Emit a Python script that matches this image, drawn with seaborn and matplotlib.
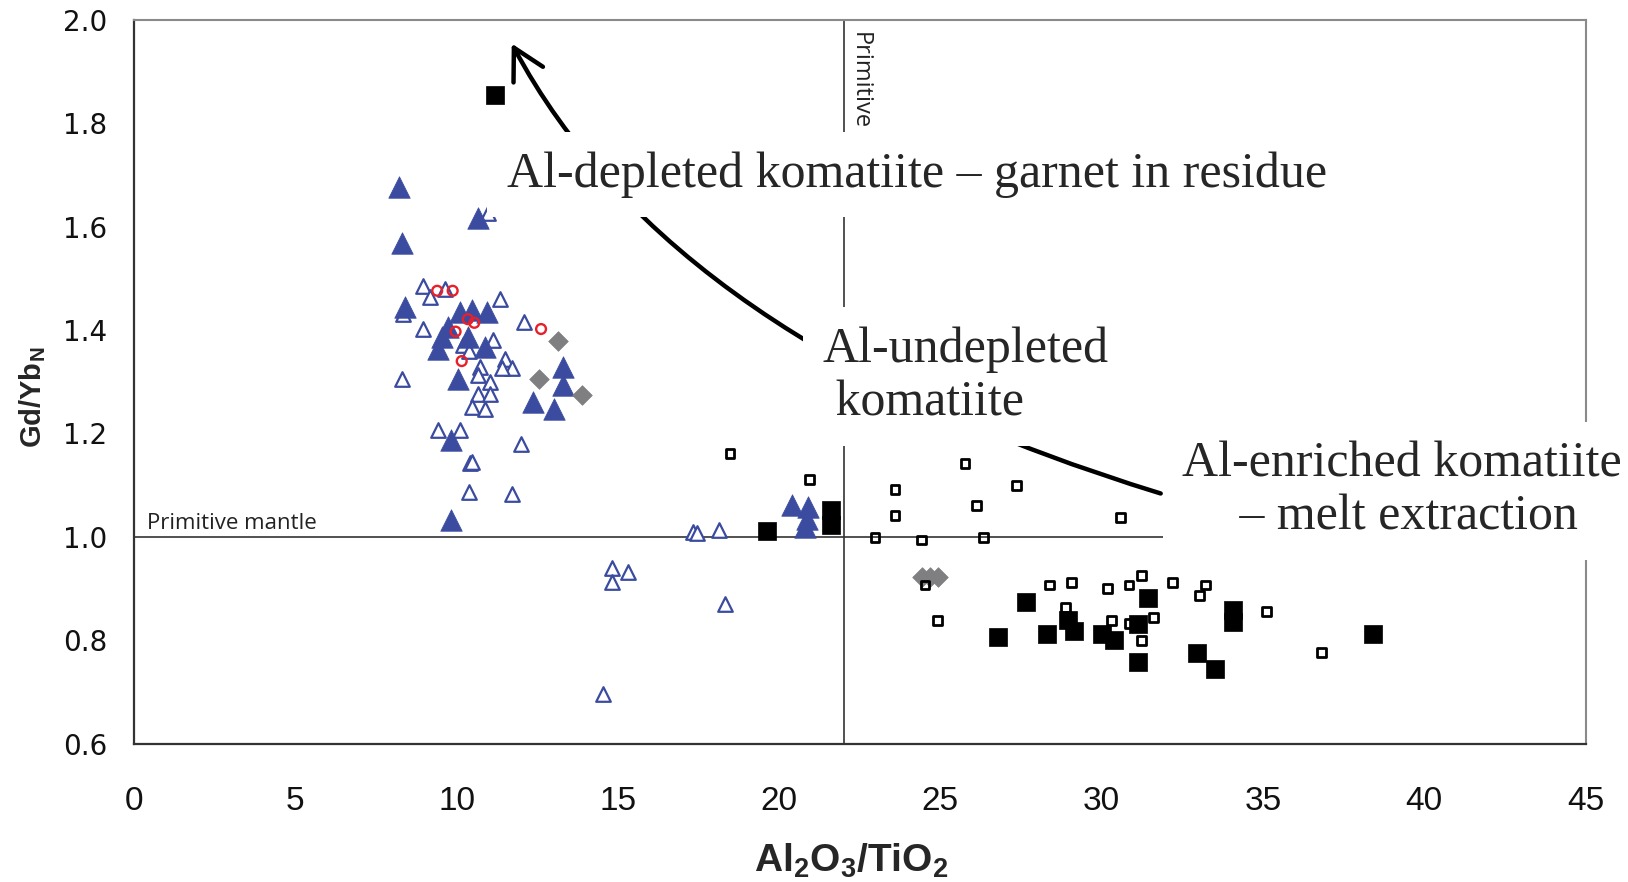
import matplotlib
matplotlib.use("Agg")
import matplotlib.pyplot as plt
import seaborn as sns
import pandas as pd
from matplotlib.patches import FancyArrowPatch, ArrowStyle
from matplotlib.ticker import FormatStrFormatter

# ---------------- data ----------------
filled_tri_x = [8.23, 10.68, 8.32, 8.40, 10.11, 10.47, 10.93, 9.75, 9.54, 10.37, 10.88, 9.43,
                10.03, 13.31, 13.31, 12.38, 13.03, 9.82, 9.83, 20.39, 20.90, 20.80, 20.85]
filled_tri_y = [1.677, 1.616, 1.568, 1.445, 1.435, 1.438, 1.435, 1.406, 1.387, 1.387, 1.368, 1.364,
                1.306, 1.329, 1.293, 1.261, 1.248, 1.187, 1.032, 1.061, 1.058, 1.019, 1.035]

open_tri_x = [10.98, 8.97, 9.64, 9.18, 8.35, 11.35, 8.97, 12.09, 11.14, 11.50, 11.71, 11.40,
              10.73, 10.68, 11.04, 10.68, 11.04, 10.47, 10.88, 8.32, 9.43, 10.11, 12.00, 10.42,
              10.47, 10.39, 11.71, 17.34, 17.44, 18.14, 14.83, 14.83, 15.31, 18.33, 14.55,
              10.20, 10.40]
open_tri_y = [1.626, 1.485, 1.480, 1.464, 1.432, 1.461, 1.403, 1.416, 1.380, 1.345, 1.326, 1.326,
              1.329, 1.313, 1.300, 1.277, 1.277, 1.251, 1.248, 1.306, 1.206, 1.206, 1.180, 1.142,
              1.145, 1.087, 1.083, 1.010, 1.008, 1.013, 0.939, 0.913, 0.932, 0.871, 0.697,
              1.372, 1.360]

red_circle_x = [9.40, 9.88, 10.35, 10.55, 9.97, 12.62, 10.16]
red_circle_y = [1.476, 1.476, 1.421, 1.414, 1.397, 1.402, 1.340]

diamond_x = [13.14, 12.56, 13.89, 24.42, 24.68, 24.93]
diamond_y = [1.378, 1.306, 1.274, 0.923, 0.923, 0.923]

open_sq_x = [18.48, 20.94, 22.97, 25.76, 23.59, 23.59, 27.36, 26.12, 30.59, 24.42, 26.33, 24.52,
             24.90, 28.39, 29.07, 28.88, 30.18, 30.85, 31.24, 30.31, 30.86, 31.24, 31.60, 32.19,
             33.23, 33.04, 35.11, 36.82]
open_sq_y = [1.161, 1.111, 0.999, 1.142, 1.092, 1.042, 1.099, 1.061, 1.037, 0.994, 0.999, 0.907,
             0.838, 0.907, 0.912, 0.863, 0.900, 0.907, 0.926, 0.839, 0.833, 0.800, 0.844, 0.912,
             0.907, 0.887, 0.856, 0.776]

filled_sq_x = [11.20, 19.61, 21.60, 21.60, 27.64, 26.79, 28.31, 28.96, 29.15, 30.00, 30.39, 31.44,
               31.13, 31.13, 34.08, 34.08, 32.94, 33.51, 38.42]
filled_sq_y = [1.855, 1.011, 1.052, 1.023, 0.874, 0.807, 0.813, 0.839, 0.819, 0.813, 0.800, 0.881,
               0.831, 0.758, 0.858, 0.836, 0.776, 0.745, 0.813]

x_ticks = [0, 5, 10, 15, 20, 25, 30, 35, 40, 45]
y_ticks = [0.6, 0.8, 1.0, 1.2, 1.4, 1.6, 1.8, 2.0]
primitive_mantle_y = 1.0
primitive_x = 22.0

trend_start = (31.83, 1.084)   # Al-enriched end of curve
trend_end = (11.71, 1.954)     # arrow tip

# ---------------- styling ----------------
sns.set_theme(style="white")
plt.rcParams['font.family'] = ['DejaVu Sans']
plt.rcParams['mathtext.fontset'] = 'custom'
plt.rcParams['mathtext.rm'] = 'Liberation Sans:bold'
plt.rcParams['mathtext.bf'] = 'Liberation Sans:bold'
plt.rcParams['mathtext.default'] = 'bf'

BLUE = "#3a4ba0"
RED = "#e8202a"
GREY = "#7f7f82"

fig, ax = plt.subplots(figsize=(16.28, 8.82), dpi=100)
fig.subplots_adjust(left=0.0823, right=0.9739, top=0.9776, bottom=0.1567)
ax.set_facecolor("white")

series = [
    (open_tri_x, open_tri_y, dict(marker="^", s=110, facecolors="white", edgecolors=BLUE, linewidths=1.6)),
    (filled_tri_x, filled_tri_y, dict(marker="^", s=240, color=BLUE, edgecolors=BLUE, linewidths=0.5)),
    (diamond_x, diamond_y, dict(marker="D", s=100, color=GREY, edgecolors=GREY, linewidths=0.5)),
    (red_circle_x, red_circle_y, dict(marker="o", s=50, facecolors="none", edgecolors=RED, linewidths=1.7)),
    (open_sq_x, open_sq_y, dict(marker="s", s=40, facecolors="none", edgecolors="black", linewidths=2.0)),
    (filled_sq_x, filled_sq_y, dict(marker="s", s=165, color="black", edgecolors="black", linewidths=0.5)),
]
for i, (xs, ys, kw) in enumerate(series):
    df = pd.DataFrame({"x": xs, "y": ys})
    sns.scatterplot(data=df, x="x", y="y", ax=ax, legend=False, zorder=3 + i * 0.01, **kw)

# reference lines
ax.axhline(primitive_mantle_y, color="#333333", lw=1.2, zorder=2)
ax.axvline(primitive_x, color="#333333", lw=1.2, zorder=2)

ax.text(0.39, primitive_mantle_y + 0.005, "Primitive mantle", family=["Open Sans", "DejaVu Sans"],
        fontsize=16, color="#222222", ha="left", va="bottom", zorder=3)
ax.text(primitive_x + 0.12, 1.976, "Primitive", family=["Open Sans", "DejaVu Sans"],
        fontsize=17, color="#222222", rotation=-90, ha="left", va="top", zorder=3)

# curved trend arrow
arrow = FancyArrowPatch(posA=trend_start, posB=trend_end,
                        connectionstyle="angle3,angleA=163,angleB=-62",
                        arrowstyle=ArrowStyle("->", head_length=22, head_width=12),
                        mutation_scale=1, lw=3.2, color="black", shrinkA=0, shrinkB=0, zorder=4)
ax.add_patch(arrow)

serif = ["Liberation Serif", "DejaVu Serif"]
box = dict(facecolor="white", edgecolor="none", pad=14)
ax.text(11.55, 1.677, "Al-depleted komatiite \u2013 garnet in residue", family=serif, fontsize=36,
        ha="left", va="baseline", bbox=box, zorder=5, clip_on=False)
ax.text(21.35, 1.235, "Al-undepleted\n komatiite", family=serif, fontsize=36,
        ha="left", va="baseline", linespacing=1.18, bbox=box, zorder=5, clip_on=False)
ax.text(32.5, 1.014, "Al-enriched komatiite\n\u00a0\u2013 melt extraction", family=serif, fontsize=36,
        ha="left", va="baseline", multialignment="center", linespacing=1.18,
        bbox=box, zorder=5, clip_on=False)

# axes
ax.set_xlim(0, 45)
ax.set_ylim(0.6, 2.0)
ax.set_xticks(x_ticks)
ax.set_yticks(y_ticks)
ax.yaxis.set_major_formatter(FormatStrFormatter("%.1f"))
ax.grid(False)

for side in ["left", "bottom"]:
    ax.spines[side].set_color("#333333")
    ax.spines[side].set_linewidth(1.6)
for side in ["top", "right"]:
    ax.spines[side].set_color("#8a8a8a")
    ax.spines[side].set_linewidth(1.5)
    ax.spines[side].set_visible(True)

ax.tick_params(axis="both", direction="out", length=7.5, width=1.2, color="#333333", labelcolor="#111111")
ax.tick_params(axis="y", pad=12)
ax.tick_params(axis="x", pad=23)
for lbl in ax.get_yticklabels():
    lbl.set_fontfamily(["DejaVu Sans"])
    lbl.set_fontsize(20)
for lbl in ax.get_xticklabels():
    lbl.set_fontfamily(["Liberation Sans Narrow", "Liberation Sans"])
    lbl.set_fontsize(24)

ax.set_xlabel(r"Al$_{2}$O$_{3}$/TiO$_{2}$", family=["Liberation Sans"], fontweight="bold", fontsize=28)
ax.set_ylabel(r"Gd/Yb$_{N}$", family=["Liberation Sans"], fontweight="bold", fontsize=21)
ax.xaxis.set_label_coords(0.494, -0.162)
ax.xaxis.label.set_va("center")
ax.yaxis.set_label_coords(-0.070, 0.478)
ax.yaxis.label.set_va("center")

fig.savefig("out.png", dpi=100, facecolor="white")
